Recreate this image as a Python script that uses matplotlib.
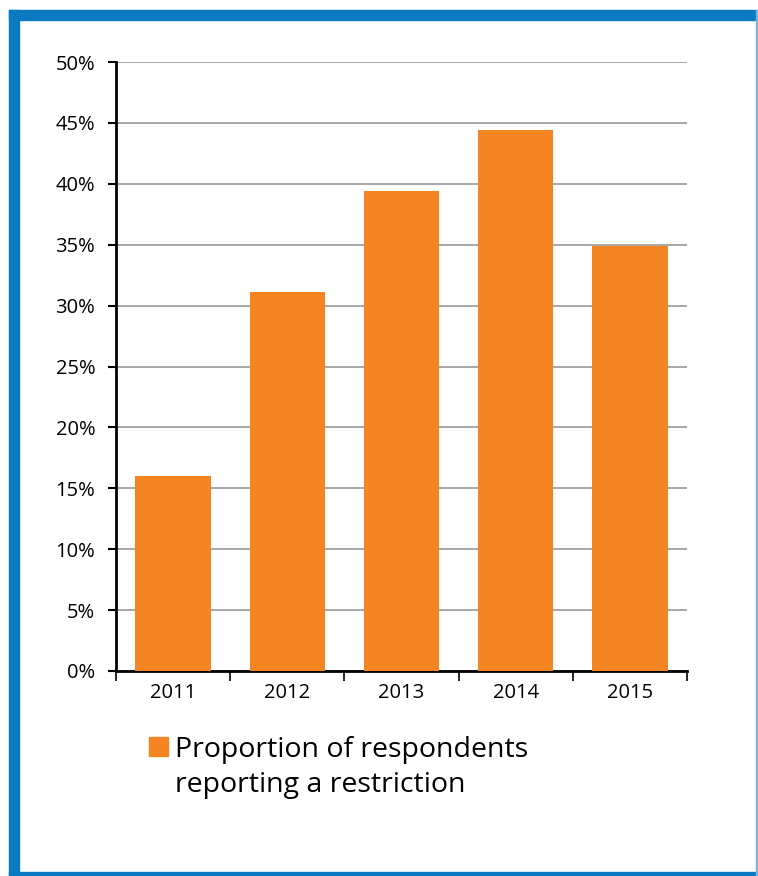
import numpy as np
import matplotlib.pyplot as plt
from matplotlib.patches import Rectangle

plt.rcParams['font.family'] = ['Open Sans', 'DejaVu Sans']

years = ['2011', '2012', '2013', '2014', '2015']
share = [16.0, 31.1, 39.4, 44.4, 34.9]  # % of respondents
yticks = np.arange(0, 55, 5)
legend_lines = ['Proportion of respondents', 'reporting a restriction']

orange = '#f58423'
blue = '#0a7bc2'

fig = plt.figure(figsize=(7.58, 8.76), dpi=100)
W, H = 758, 876

# blue frame: thick on top/left, thin on right/bottom
fig.patches.append(Rectangle((9 / W, 0), 10 / W, 1 - 10 / H, transform=fig.transFigure,
                             color=blue, zorder=0))
fig.patches.append(Rectangle((9 / W, 1 - 20 / H), 1 - 9 / W, 10 / H, transform=fig.transFigure,
                             color=blue, zorder=0))
fig.patches.append(Rectangle((9 / W, 0), 1 - 9 / W, 4 / H, transform=fig.transFigure,
                             color=blue, zorder=0))
fig.patches.append(Rectangle((1 - 2 / W, 0), 2 / W, 1 - 10 / H, transform=fig.transFigure,
                             color='#7fb2d9', zorder=0))

ax = fig.add_axes([116 / W, 1 - 671 / H, 571 / W, 609 / H])
x = np.arange(len(years))
ax.bar(x, share, width=0.66, color=orange, zorder=3)

ax.set_xlim(-0.5, len(years) - 0.5)
ax.set_ylim(0, 50)
ax.set_yticks(yticks)
ax.set_yticklabels([f'{v}%' for v in yticks], fontsize=14.5)
ax.set_xticks(x)
ax.set_xticklabels(years, fontsize=14.5)
ax.tick_params(axis='x', length=0, pad=9)
ax.set_xticks(np.arange(-0.5, len(years)), minor=True)
ax.tick_params(axis='x', which='minor', length=7, width=1.2, direction='out')
ax.tick_params(axis='y', length=6, width=1.5, direction='out', pad=9)

ax.yaxis.grid(True, color='#a0a0a0', linewidth=1.3, zorder=0)
ax.set_axisbelow(True)
for s in ['top', 'right']:
    ax.spines[s].set_visible(False)
for s in ['left', 'bottom']:
    ax.spines[s].set_linewidth(2)
    ax.spines[s].set_color('black')

# legend
fig.patches.append(Rectangle((149 / W, 1 - 756 / H), 19 / W, 19 / H, transform=fig.transFigure,
                             color=orange))
for i, line in enumerate(legend_lines):
    fig.text(175 / W, 1 - (757 + 35 * i) / H, line,
             fontsize=20.5, va='baseline', ha='left')

fig.savefig('out.png', dpi=100)
